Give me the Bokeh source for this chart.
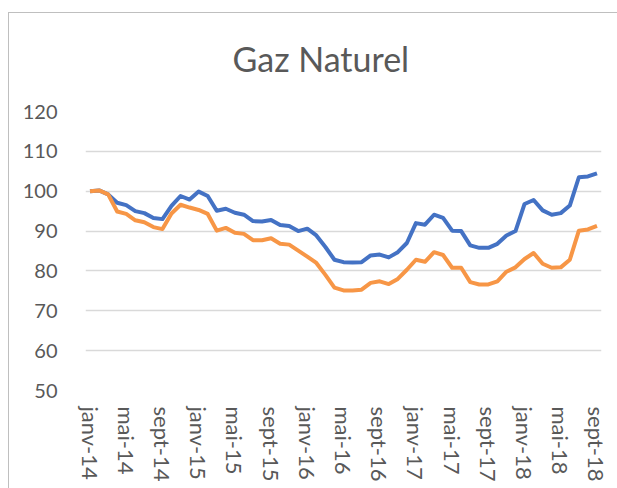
from bokeh.plotting import figure
from bokeh.models import FixedTicker, ColumnDataSource
from bokeh.embed import file_html
from bokeh.resources import INLINE

month_names = ["janv", "févr", "mars", "avr", "mai", "juin", "juil", "août", "sept", "oct", "nov", "déc"]
years = ["14", "15", "16", "17", "18"]

series_blue = [100.0, 100.2, 99.2, 97.1, 96.5, 95.0, 94.5, 93.3, 93.0, 96.3,
               98.8, 97.9, 99.9, 98.8, 95.1, 95.6, 94.6, 94.1, 92.5, 92.4,
               92.8, 91.5, 91.3, 90.0, 90.6, 88.9, 86.0, 82.8, 82.2, 82.1,
               82.2, 83.9, 84.1, 83.4, 84.7, 87.0, 92.0, 91.6, 94.1, 93.3,
               90.1, 90.0, 86.4, 85.8, 85.8, 86.8, 88.9, 90.0, 96.8, 97.8,
               95.2, 94.1, 94.5, 96.4, 103.5, 103.7, 104.5]
series_orange = [100.0, 100.2, 99.2, 94.9, 94.3, 92.7, 92.2, 91.0, 90.5, 94.4,
                 96.6, 95.9, 95.3, 94.3, 90.1, 90.8, 89.6, 89.3, 87.7, 87.7,
                 88.2, 86.8, 86.6, 85.1, 83.6, 82.0, 79.0, 75.8, 75.1, 75.1,
                 75.3, 77.0, 77.4, 76.7, 78.0, 80.3, 82.8, 82.3, 84.7, 84.0,
                 80.8, 80.8, 77.2, 76.6, 76.6, 77.4, 79.8, 80.9, 83.0, 84.5,
                 81.8, 80.8, 80.9, 82.8, 90.1, 90.4, 91.3]
y_ticks = [50, 60, 70, 80, 90, 100, 110, 120]

months = [f"{m}-{y}" for y in years for m in month_names][:len(series_blue)]
idx = list(range(len(months)))
label_ticks = idx[::4]

src = ColumnDataSource(dict(x=idx, blue=series_blue, orange=series_orange, month=months))

FONT = "Lato"
GREY = "#595959"
EDGE = "#bfbfbf"

p = figure(width=609, height=484, output_backend="svg", toolbar_location=None,
           x_range=(-0.5, len(months) - 0.5), y_range=(50, 120),
           min_border_left=77, min_border_right=16, min_border_top=107, min_border_bottom=98,
           title="Gaz Naturel")
p.styles = {
    "margin-left": "8px",
    "margin-top": "4px",
    "background": (f"linear-gradient({EDGE},{EDGE}) 0 8px / 100% 1px no-repeat, "
                   f"linear-gradient({EDGE},{EDGE}) 0 8px / 1px 100% no-repeat, white"),
}
p.border_fill_color = None
p.background_fill_color = "white"

p.title.align = "left"
p.title.offset = 147
p.title.vertical_align = "middle"
p.title.standoff = 64
p.title.text_font = FONT
p.title.text_font_size = "34px"
p.title.text_font_style = "normal"
p.title.text_color = GREY

p.line("x", "blue", source=src, line_color="#4472C4", line_width=4, line_join="round")
p.line("x", "orange", source=src, line_color="#F79646", line_width=4, line_join="round")

p.outline_line_color = None
p.xgrid.grid_line_color = None
p.ygrid.grid_line_color = "#d9d9d9"
p.ygrid.grid_line_width = 1.5

p.yaxis.ticker = FixedTicker(ticks=y_ticks)
p.yaxis.axis_line_color = None
p.yaxis.major_tick_line_color = None
p.yaxis.minor_tick_line_color = None
p.yaxis.major_label_standoff = 22
p.yaxis.major_label_text_font = FONT
p.yaxis.major_label_text_font_size = "20px"
p.yaxis.major_label_text_color = GREY

p.xaxis.ticker = FixedTicker(ticks=label_ticks)
p.xaxis.major_label_overrides = {i: months[i] for i in label_ticks}
p.xaxis.major_label_orientation = "vertical"
p.xaxis.axis_line_color = None
p.xaxis.major_tick_line_color = None
p.xaxis.minor_tick_line_color = None
p.xaxis.major_label_standoff = 10
p.xaxis.major_label_text_font = FONT
p.xaxis.major_label_text_font_size = "22px"
p.xaxis.major_label_text_color = GREY

open("out.html", "w").write(file_html(p, INLINE))
